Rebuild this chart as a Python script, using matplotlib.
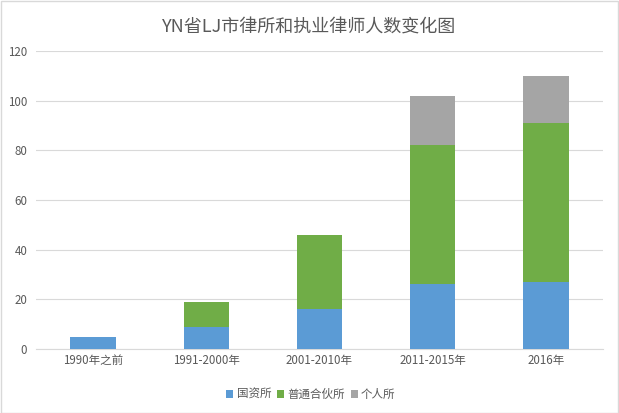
import matplotlib
matplotlib.use("Agg")
import matplotlib.pyplot as plt
import numpy as np

plt.rcParams['font.family'] = ['Noto Sans CJK SC', 'DejaVu Sans']

categories = ["1990年之前", "1991-2000年", "2001-2010年", "2011-2015年", "2016年"]
guozi = [5, 9, 16, 26, 27]
putong = [0, 10, 30, 56, 64]
geren = [0, 0, 0, 20, 19]

series_names = ["国资所", "普通合伙所", "个人所"]
colors = ["#5B9BD5", "#70AD47", "#A5A5A5"]

fig = plt.figure(figsize=(6.19, 4.13), dpi=100)
ax = fig.add_axes([0.0587, 0.155, 0.915, 0.7215])

x = np.arange(len(categories))
bottom = np.zeros(len(categories))
for vals, name, c in zip([guozi, putong, geren], series_names, colors):
    ax.bar(x, vals, 0.4, bottom=bottom, color=c, label=name, zorder=3)
    bottom += np.array(vals)

ax.set_xlim(-0.5, len(categories) - 0.5)
ax.set_ylim(0, 120)
ax.set_yticks(range(0, 121, 20))
ax.set_xticks(x)
ax.set_xticklabels(categories)
ax.yaxis.grid(True, color="#D9D9D9", linewidth=0.8, zorder=0)
for s in ["top", "right", "left"]:
    ax.spines[s].set_visible(False)
ax.spines["bottom"].set_color("#D9D9D9")
ax.tick_params(axis="both", length=0, labelsize=8.3, colors="#595959")
ax.tick_params(axis="y", pad=6.5)

fig.suptitle("YN省LJ市律所和执业律师人数变化图", y=0.955, fontsize=13, color="#595959")

ax.legend(loc="lower center", bbox_to_anchor=(0.485, -0.21), ncol=3, frameon=False,
          fontsize=8.3, handlelength=0.6, handleheight=0.6, handletextpad=0.3,
          columnspacing=0.5, labelcolor="#595959")

fig.patches.append(plt.Rectangle((0.001, 0.001), 0.997, 0.997, transform=fig.transFigure,
                                 fill=False, edgecolor="#D9D9D9", linewidth=1))

fig.savefig("out.png", dpi=100)
